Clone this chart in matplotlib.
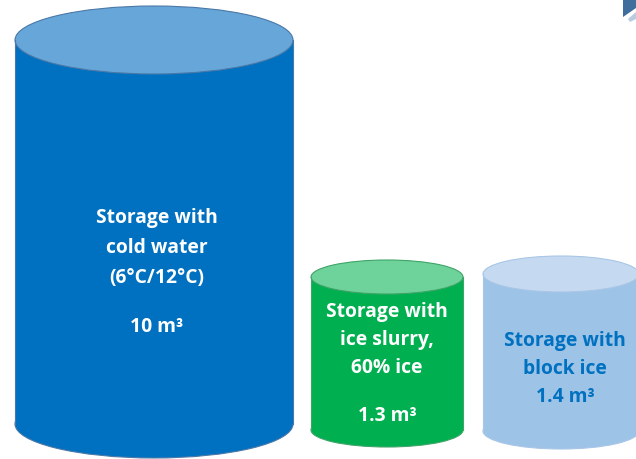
import matplotlib.pyplot as plt
from matplotlib.patches import Ellipse, Rectangle, Polygon

# storage tanks: label, volume, colours and placement (pixels)
labels = ["Storage with\ncold water\n(6°C/12°C)", "Storage with\nice slurry,\n60% ice", "Storage with\nblock ice"]
volumes = [10, 1.3, 1.4]
body_colors = ["#0070C0", "#00B050", "#9DC3E6"]
top_colors = ["#66A6D8", "#6DD39A", "#C5DAF1"]
edge_colors = ["#4A78A8", "#3FA468", "#A9C6E6"]
text_colors = ["white", "white", "#0070C0"]
cx = [154, 387, 561]
half_w = [139, 76, 78]
top_y = [40, 277, 274]
bottom_y = [424, 430, 431]
half_h = [34, 17, 18]

fig = plt.figure(figsize=(6.36, 4.59), dpi=100)
ax = fig.add_axes([0, 0, 1, 1])
ax.set_xlim(0, 636)
ax.set_ylim(459, 0)
ax.axis("off")

for i in range(3):
    x0 = cx[i] - half_w[i]
    # bottom cap, body, top cap
    ax.add_patch(Ellipse((cx[i], bottom_y[i]), 2 * half_w[i], 2 * half_h[i],
                         facecolor=body_colors[i], edgecolor=edge_colors[i], lw=0.8))
    ax.add_patch(Rectangle((x0, top_y[i]), 2 * half_w[i], bottom_y[i] - top_y[i],
                           facecolor=body_colors[i], edgecolor="none"))
    ax.plot([x0, x0], [top_y[i], bottom_y[i]], color=edge_colors[i], lw=0.8)
    ax.plot([x0 + 2 * half_w[i]] * 2, [top_y[i], bottom_y[i]], color=edge_colors[i], lw=0.8)
    ax.add_patch(Ellipse((cx[i], top_y[i]), 2 * half_w[i], 2 * half_h[i],
                         facecolor=top_colors[i], edgecolor=edge_colors[i], lw=0.8))

font = dict(family="Open Sans", weight="bold", fontsize=13.9, ha="center", va="center")

ax.text(cx[0] + 3, 248, labels[0], color=text_colors[0], linespacing=1.65, **font)
ax.text(cx[0] + 3, 327, f"{volumes[0]:g} m³", color=text_colors[0], **font)
ax.text(cx[1], 340, labels[1], color=text_colors[1], linespacing=1.55, **font)
ax.text(cx[1], 416, f"{volumes[1]:g} m³", color=text_colors[1], **font)
ax.text(cx[2] + 4, 369, labels[2] + f"\n{volumes[2]:g} m³", color=text_colors[2],
        linespacing=1.55, **font)

# corner of a logo at the top right
ax.add_patch(Polygon([(623, 0), (636, 0), (636, 8), (623, 17)], closed=True,
                     facecolor="#3F6E9C", edgecolor="none"))
ax.add_patch(Polygon([(628, 19), (636, 12), (636, 19), (630, 22)], closed=True,
                     facecolor="#B8CCE0", edgecolor="none"))

fig.savefig("out.png", dpi=100)
